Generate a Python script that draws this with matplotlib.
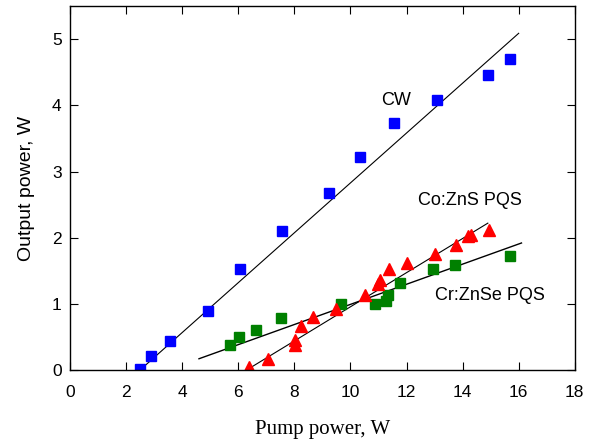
import numpy as np
import matplotlib.pyplot as plt

# CW (blue squares)
cw_pump = [2.49, 2.88, 3.56, 4.92, 6.08, 7.56, 9.22, 10.35, 11.57, 13.10, 14.91, 15.70]
cw_out = [0.02, 0.21, 0.44, 0.89, 1.52, 2.10, 2.67, 3.22, 3.74, 4.08, 4.46, 4.70]

# Cr:ZnSe PQS (green squares)
cr_pump = [5.70, 6.03, 6.65, 7.54, 9.68, 10.87, 11.28, 11.34, 11.76, 12.93, 13.72, 15.68]
cr_out = [0.38, 0.50, 0.61, 0.79, 1.00, 1.00, 1.04, 1.14, 1.31, 1.52, 1.59, 1.72]

# Co:ZnS PQS (red triangles)
co_pump = [6.38, 7.07, 8.02, 8.02, 8.24, 8.67, 9.47, 10.51, 10.99, 11.05, 11.38,
           12.00, 13.01, 13.78, 14.20, 14.30, 14.94]
co_out = [0.05, 0.17, 0.38, 0.46, 0.66, 0.80, 0.92, 1.13, 1.30, 1.36, 1.52,
          1.62, 1.76, 1.89, 2.02, 2.04, 2.11]

# fit lines (endpoints)
cw_fit_x = [2.5, 16.0]
cw_fit_y = [0.0, 5.09]
co_fit_x = [6.3, 14.9]
co_fit_y = [0.0, 2.22]
cr_fit_x = [4.6, 16.1]
cr_fit_y = [0.17, 1.92]

fig = plt.figure(figsize=(5.95, 4.41), dpi=100)
ax = fig.add_axes([0.1176, 0.161, 0.8484, 0.825])

ax.plot(cw_fit_x, cw_fit_y, color='black', lw=0.8)
ax.plot(co_fit_x, co_fit_y, color='black', lw=0.8)
ax.plot(cr_fit_x, cr_fit_y, color='black', lw=1.0)

ax.plot(cw_pump, cw_out, 's', color='#0000ff', ms=7.5, ls='none')
ax.plot(cr_pump, cr_out, 's', color='#008000', ms=7.5, ls='none')
ax.plot(co_pump, co_out, '^', color='#ff0000', ms=8, ls='none')

ax.text(11.64, 4.08, "CW", fontsize=13, family='Liberation Sans', ha='center', va='center')
ax.text(14.26, 2.56, "Co:ZnS PQS", fontsize=13, family='Liberation Sans', ha='center', va='center')
ax.text(14.97, 1.13, "Cr:ZnSe PQS", fontsize=13, family='Liberation Sans', ha='center', va='center')

ax.set_xlim(0, 18)
ax.set_ylim(0, 5.5)
ax.set_xticks(np.arange(0, 19, 2))
ax.set_yticks(np.arange(0, 6, 1))
ax.tick_params(direction='in', top=True, right=True, length=6, labelsize=12.5)
ax.tick_params(axis='x', pad=11)
ax.tick_params(axis='y', pad=6)
for lab in ax.get_xticklabels() + ax.get_yticklabels():
    lab.set_family('Liberation Sans')
for spine in ax.spines.values():
    spine.set_linewidth(1.0)

ax.set_xlabel("Pump power, W", fontsize=15, family='Liberation Serif', labelpad=14)
ax.set_ylabel("Output power, W", fontsize=14, family='Liberation Sans', labelpad=12)

fig.savefig("out.png", dpi=100)
